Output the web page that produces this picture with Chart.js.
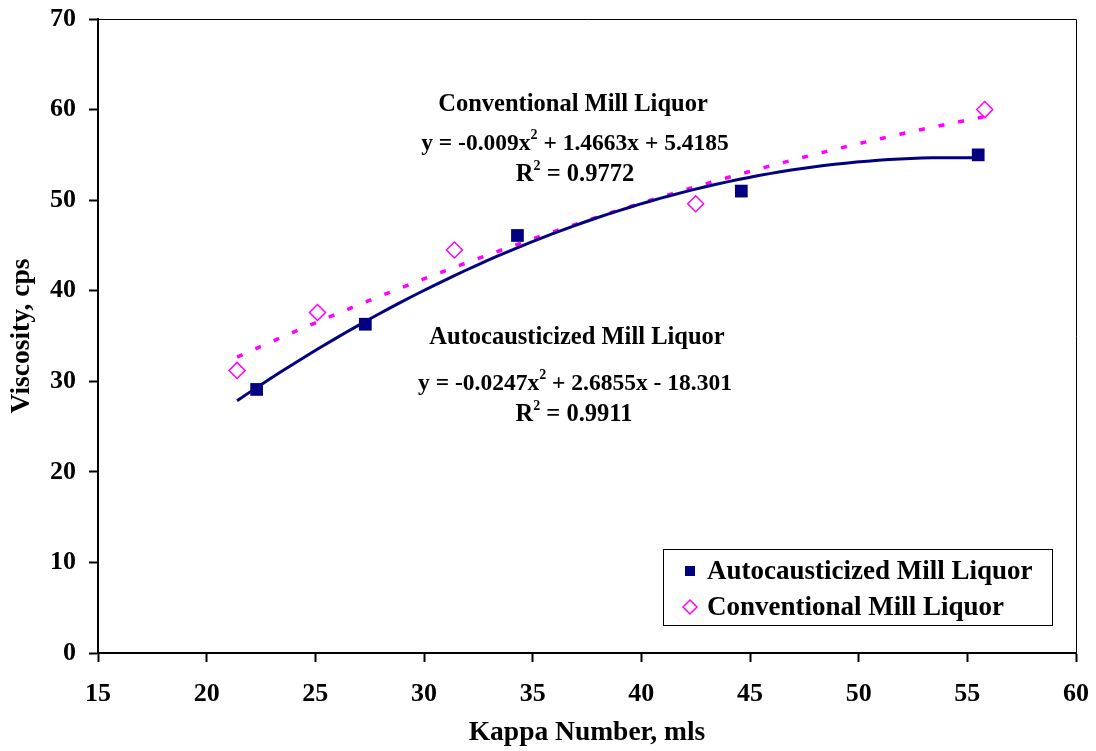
<!DOCTYPE html>
<html>
<head>
<meta charset="utf-8">
<script src="https://cdn.jsdelivr.net/npm/chart.js@4/dist/chart.umd.min.js"></script>
<style>
  body { margin: 0; background: #fff; }
  #wrap { width: 1096px; height: 751px; position: relative; }
</style>
</head>
<body>
<div id="wrap"><canvas id="myChart"></canvas></div>
<script>
// measured points
const autoKappa = [22.3, 27.3, 34.3, 44.6, 55.5];
const autoVisc = [29.1, 36.3, 46.1, 51.0, 55.0];
const convKappa = [21.4, 25.1, 31.4, 42.5, 55.8];
const convVisc = [31.2, 37.6, 44.5, 49.6, 60.0];

// trendline coefficients as printed on the chart (a, b, c for ax^2 + bx + c)
const autoFit = [-0.0247, 2.6855, -18.301];
const convFit = [-0.009, 1.4663, 5.4185];
const autoFitRange = [21.4, 55.5];
const convFitRange = [21.4, 55.8];

const xTicks = [15, 20, 25, 30, 35, 40, 45, 50, 55, 60];
const yTicks = [0, 10, 20, 30, 40, 50, 60, 70];

const NAVY = "#000080";
const MAGENTA = "#FF00FF";
const FONT = "'Liberation Serif', 'Times New Roman', serif";

function toPoints(xs, ys) {
  return xs.map((x, i) => ({ x: x, y: ys[i] }));
}

function trend(coef, range) {
  let pts = [];
  for (let x = range[0]; x <= range[1] + 1e-9; x += 0.5) {
    pts.push({ x: x, y: coef[0] * x * x + coef[1] * x + coef[2] });
  }
  let last = range[1];
  if (pts[pts.length - 1].x < last - 1e-9) {
    pts.push({ x: last, y: coef[0] * last * last + coef[1] * last + coef[2] });
  }
  return pts;
}

// text with superscripts, centred on cx
function drawRich(ctx, parts, cx, cy, size) {
  let supSize = Math.round(size * 0.58);
  let total = 0;
  parts.forEach((p) => {
    ctx.font = "bold " + (p[1] ? supSize : size) + "px " + FONT;
    total += ctx.measureText(p[0]).width;
  });
  let x = cx - total / 2;
  ctx.textAlign = "left";
  ctx.textBaseline = "middle";
  parts.forEach((p) => {
    ctx.font = "bold " + (p[1] ? supSize : size) + "px " + FONT;
    ctx.fillText(p[0], x, p[1] ? cy - size * 0.37 : cy);
    x += ctx.measureText(p[0]).width;
  });
}

const extras = {
  id: "extras",
  afterDatasetsDraw(chart) {
    const ctx = chart.ctx;
    const a = chart.chartArea;
    ctx.save();
    // thin top and right frame
    ctx.strokeStyle = "#000";
    ctx.lineWidth = 1;
    ctx.beginPath();
    ctx.moveTo(a.left, a.top + 0.5);
    ctx.lineTo(a.right + 0.5, a.top + 0.5);
    ctx.lineTo(a.right + 0.5, a.bottom);
    ctx.stroke();

    // trendline labels
    ctx.fillStyle = "#000";
    const fs = 24.5, fe = 23.5;
    drawRich(ctx, [["Conventional Mill Liquor", false]], 573, 105, fs);
    drawRich(ctx, [["y = -0.009x", false], ["2", true], [" + 1.4663x + 5.4185", false]], 575, 144, fe);
    drawRich(ctx, [["R", false], ["2", true], [" = 0.9772", false]], 575, 175, fs);
    drawRich(ctx, [["Autocausticized Mill Liquor", false]], 577, 338, fs);
    drawRich(ctx, [["y = -0.0247x", false], ["2", true], [" + 2.6855x - 18.301", false]], 575, 384, fe);
    drawRich(ctx, [["R", false], ["2", true], [" = 0.9911", false]], 574, 415, fs);

    // legend box
    const lx = 663, ly = 549, lw = 389, lh = 76;
    ctx.fillStyle = "#fff";
    ctx.fillRect(lx, ly, lw, lh);
    ctx.strokeStyle = "#000";
    ctx.lineWidth = 1;
    ctx.strokeRect(lx + 0.5, ly + 0.5, lw, lh);
    const rows = [chart.data.datasets[0], chart.data.datasets[1]];
    rows.forEach((ds, i) => {
      const cy = 571 + i * 36;
      const mx = 690;
      ctx.beginPath();
      if (ds.pointStyle === "rect") {
        ctx.fillStyle = ds.backgroundColor;
        ctx.fillRect(mx - 5, cy - 5, 10, 10);
      } else {
        ctx.strokeStyle = ds.borderColor;
        ctx.lineWidth = 1.5;
        ctx.moveTo(mx, cy - 7);
        ctx.lineTo(mx + 7, cy);
        ctx.lineTo(mx, cy + 7);
        ctx.lineTo(mx - 7, cy);
        ctx.closePath();
        ctx.stroke();
      }
      ctx.fillStyle = "#000";
      ctx.font = "bold 27px " + FONT;
      ctx.textAlign = "left";
      ctx.textBaseline = "middle";
      ctx.fillText(ds.label, 707, cy + 1);
    });
    ctx.restore();
  },
};

const ctx = document.getElementById("myChart");

new Chart(ctx, {
  type: "scatter",
  data: {
    datasets: [
      {
        label: "Autocausticized Mill Liquor",
        data: toPoints(autoKappa, autoVisc),
        pointStyle: "rect",
        pointRadius: 9,
        backgroundColor: NAVY,
        borderColor: NAVY,
        borderWidth: 0,
        order: 1,
      },
      {
        label: "Conventional Mill Liquor",
        data: toPoints(convKappa, convVisc),
        pointStyle: "rectRot",
        pointRadius: 8,
        backgroundColor: "rgba(255,255,255,0)",
        borderColor: MAGENTA,
        borderWidth: 1.5,
        order: 1,
      },
      {
        label: "auto fit",
        data: trend(autoFit, autoFitRange),
        showLine: true,
        borderColor: NAVY,
        borderWidth: 3,
        pointRadius: 0,
        tension: 0,
        order: 2,
      },
      {
        label: "conv fit",
        data: trend(convFit, convFitRange),
        showLine: true,
        borderColor: MAGENTA,
        borderWidth: 3.5,
        borderDash: [6, 14],
        pointRadius: 0,
        tension: 0,
        order: 2,
      },
    ],
  },
  options: {
    responsive: true,
    maintainAspectRatio: false,
    animation: false,
    layout: { padding: { top: 19, right: 20, left: 0, bottom: 0 } },
    plugins: {
      legend: { display: false },
      tooltip: { enabled: false },
    },
    scales: {
      x: {
        type: "linear",
        min: xTicks[0],
        max: xTicks[xTicks.length - 1],
        afterBuildTicks: (scale) => {
          scale.ticks = xTicks.map((v) => ({ value: v }));
        },
        afterFit: (scale) => {
          scale.height = 98;
          scale.paddingLeft = 0;
          scale.paddingRight = 0;
        },
        ticks: {
          font: { family: FONT, size: 26, weight: "bold" },
          color: "#000",
          padding: 17,
          maxRotation: 0,
        },
        grid: {
          drawOnChartArea: false,
          drawTicks: true,
          tickLength: 9,
          tickWidth: 2,
          tickColor: "#000",
        },
        border: { display: true, color: "#000", width: 2 },
        title: {
          display: true,
          text: "Kappa Number, mls",
          color: "#000",
          font: { family: FONT, size: 27.5, weight: "bold" },
          padding: { top: 0, bottom: 1.5 },
        },
      },
      y: {
        type: "linear",
        min: yTicks[0],
        max: yTicks[yTicks.length - 1],
        afterBuildTicks: (scale) => {
          scale.ticks = yTicks.map((v) => ({ value: v }));
        },
        afterFit: (scale) => {
          scale.width = 98;
          scale.paddingTop = 0;
          scale.paddingBottom = 0;
        },
        ticks: {
          font: { family: FONT, size: 26, weight: "bold" },
          color: "#000",
          padding: 13,
        },
        grid: {
          drawOnChartArea: false,
          drawTicks: true,
          tickLength: 9,
          tickWidth: 2,
          tickColor: "#000",
        },
        border: { display: true, color: "#000", width: 2 },
        title: {
          display: true,
          text: "Viscosity, cps",
          color: "#000",
          font: { family: FONT, size: 27.5, weight: "bold" },
          padding: { top: 5.5, bottom: 0 },
        },
      },
    },
  },
  plugins: [extras],
});
</script>
</body>
</html>
